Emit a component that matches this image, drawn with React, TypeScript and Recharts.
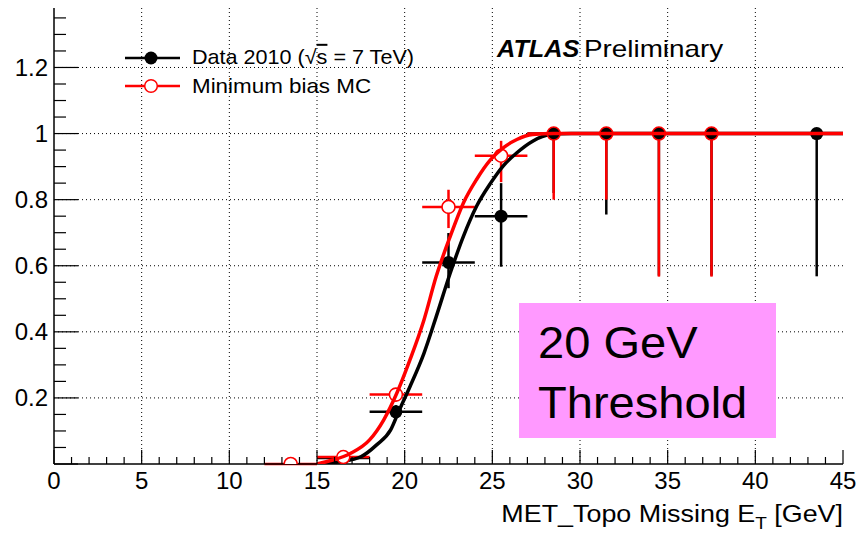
import React from "react";
import {
  ComposedChart,
  Line,
  Scatter,
  ErrorBar,
  XAxis,
  YAxis,
  CartesianGrid,
} from "recharts";

// Trigger efficiency vs missing ET, data and MC with their fitted turn-on curves
const dataX = [16.5, 19.5, 22.5, 25.5, 28.5, 31.5, 34.5, 37.5, 43.5];
const dataY = [0.018, 0.158, 0.61, 0.75, 1, 1, 1, 1, 1];
const dataErrLo = [0.01, 0.02, 0.078, 0.153, 0.18, 0.245, 0.43, 0.43, 0.432];
const dataErrHi = [0.01, 0.02, 0.089, 0.1, 0, 0, 0, 0, 0];
const dataBinHalf = [1.5, 1.5, 1.5, 1.5, 1.5, 1.5, 1.5, 1.5, 1.5];

const mcX = [13.5, 16.5, 19.5, 22.5, 25.5, 28.5, 31.5, 34.5, 37.5];
const mcY = [0, 0.021, 0.21, 0.778, 0.933, 1, 1, 1, 1];
const mcErrLo = [0, 0.01, 0.02, 0.064, 0.08, 0.2, 0.2, 0.433, 0.433];
const mcErrHi = [0, 0.01, 0.02, 0.052, 0.045, 0, 0, 0, 0];
const mcBinHalf = [1.5, 1.5, 1.5, 1.5, 1.5, 1.5, 1.5, 1.5, 1.5];

// fitted curves, sampled
const dataFitX = [15.3, 16.3, 17.5, 18.4, 19.2, 19.7, 20.3, 21.1, 21.8, 22.6, 23.35, 24.1, 24.9, 25.6, 26.4, 27.3, 28.3, 29.5, 45];
const dataFitY = [0, 0.007, 0.022, 0.058, 0.103, 0.164, 0.234, 0.335, 0.446, 0.578, 0.689, 0.78, 0.85, 0.901, 0.942, 0.977, 0.997, 1, 1];
const mcFitX = [15, 15.9, 16.9, 18.0, 18.8, 19.55, 20.3, 21.1, 21.8, 22.6, 23.35, 24.1, 24.9, 25.6, 26.4, 27.3, 28.5, 45];
const mcFitY = [0, 0.012, 0.032, 0.073, 0.133, 0.214, 0.315, 0.436, 0.568, 0.689, 0.79, 0.861, 0.921, 0.956, 0.982, 0.997, 1, 1];

const xTicks = [
  0, 1, 2, 3, 4, 5, 6, 7, 8, 9, 10, 11, 12, 13, 14, 15, 16, 17, 18, 19, 20, 21, 22,
  23, 24, 25, 26, 27, 28, 29, 30, 31, 32, 33, 34, 35, 36, 37, 38, 39, 40, 41, 42, 43, 44, 45,
];
const yTicks = [
  0, 0.05, 0.1, 0.15, 0.2, 0.25, 0.3, 0.35, 0.4, 0.45, 0.5, 0.55, 0.6, 0.65,
  0.7, 0.75, 0.8, 0.85, 0.9, 0.95, 1, 1.05, 1.1, 1.15, 1.2, 1.25, 1.3, 1.35,
];
const xGrid = [5, 10, 15, 20, 25, 30, 35, 40];
const yGrid = [0.2, 0.4, 0.6, 0.8, 1, 1.2];

const dataPoints = dataX.map((x, i) => ({
  x,
  y: dataY[i],
  ex: [dataBinHalf[i], dataBinHalf[i]],
  ey: [dataErrLo[i], dataErrHi[i]],
}));
const mcPoints = mcX.map((x, i) => ({
  x,
  y: mcY[i],
  ex: [mcBinHalf[i], mcBinHalf[i]],
  ey: [mcErrLo[i], mcErrHi[i]],
}));
const dataFit = dataFitX.map((x, i) => ({ x, y: dataFitY[i] }));
const mcFit = mcFitX.map((x, i) => ({ x, y: mcFitY[i] }));

const FONT = '"Liberation Sans", Arial, Helvetica, sans-serif';
const W = 856;
const H = 547;

const isMajorX = (v: number) => v % 5 === 0;
const isMajorY = (v: number) => Math.abs(v * 5 - Math.round(v * 5)) < 1e-6;

const BottomTick = (props: any) => {
  const { x, y, payload } = props;
  const major = isMajorX(payload.value);
  return (
    <g>
      <line x1={x} x2={x} y1={y} y2={y - (major ? 14 : 7)} stroke="#000" strokeWidth={1.2} />
      {major && (
        <text x={x} y={y + 25} textAnchor="middle" fontSize={24} fontFamily={FONT} fill="#000">
          {payload.value}
        </text>
      )}
    </g>
  );
};

const TopTick = (props: any) => {
  const { x, y, payload } = props;
  const major = isMajorX(payload.value);
  return <line x1={x} x2={x} y1={y} y2={y + (major ? 14 : 7)} stroke="#000" strokeWidth={1.2} />;
};

const LeftTick = (props: any) => {
  const { x, y, payload } = props;
  const v = payload.value as number;
  const major = isMajorY(v);
  return (
    <g>
      <line x1={x} x2={x + (major ? 24 : 12)} y1={y} y2={y} stroke="#000" strokeWidth={1.2} />
      {major && v > 0 && (
        <text x={x - 6} y={y + 8.5} textAnchor="end" fontSize={24} fontFamily={FONT} fill="#000">
          {Number(v.toFixed(1)).toString()}
        </text>
      )}
    </g>
  );
};

const RightTick = (props: any) => {
  const { x, y, payload } = props;
  const major = isMajorY(payload.value);
  return <line x1={x} x2={x - (major ? 24 : 12)} y1={y} y2={y} stroke="#000" strokeWidth={1.2} />;
};

const DataDot = (props: any) => {
  const { cx, cy } = props;
  return <circle cx={cx} cy={cy} r={6.5} fill="#000" />;
};

const McDot = (props: any) => {
  const { cx, cy, payload } = props;
  return (
    <circle
      cx={cx}
      cy={cy}
      r={6.5}
      fill={payload.y < 1 ? "#fff" : "none"}
      stroke="#ff0000"
      strokeWidth={1.6}
    />
  );
};

// text drawn slightly wider than the font, like the ROOT output
const Wide = ({ x, y, sx, size, anchor, children, weight, italic }: any) => (
  <text
    transform={`translate(${x},${y}) scale(${sx},1)`}
    fontSize={size}
    fontFamily={FONT}
    textAnchor={anchor || "start"}
    fontWeight={weight || "normal"}
    fontStyle={italic ? "italic" : "normal"}
    fill="#000"
  >
    {children}
  </text>
);

const Annotations = () => (
  <svg
    width={W}
    height={H}
    style={{ position: "absolute", left: 0, top: 0, pointerEvents: "none" }}
  >
    {/* legend */}
    <line x1={125} x2={180} y1={58} y2={58} stroke="#000" strokeWidth={2.5} />
    <circle cx={151} cy={58} r={6.5} fill="#000" />
    <Wide x={192} y={64} sx={1.08} size={20}>
      Data 2010 (√<tspan style={{ textDecoration: "overline" }}>s</tspan> = 7 TeV)
    </Wide>
    <line x1={125} x2={180} y1={86} y2={86} stroke="#ff0000" strokeWidth={2.5} />
    <circle cx={151} cy={86} r={6.3} fill="#fff" stroke="#ff0000" strokeWidth={1.5} />
    <Wide x={192} y={93} sx={1.12} size={20}>
      Minimum bias MC
    </Wide>

    <Wide x={497} y={57} sx={1.1} size={23} weight="bold" italic>
      ATLAS
    </Wide>
    <Wide x={584} y={57} sx={1.16} size={24}>
      Preliminary
    </Wide>

    {/* threshold box */}
    <rect x={519} y={303} width={257} height={135} fill="#ff99ff" />
    <Wide x={538} y={358} sx={1.07} size={44}>
      20 GeV
    </Wide>
    <Wide x={538} y={418} sx={1.07} size={44}>
      Threshold
    </Wide>

    {/* x-axis title */}
    <text
      transform={`translate(843,522) scale(1.12,1)`}
      fontSize={24}
      fontFamily={FONT}
      textAnchor="end"
      fill="#000"
    >
      MET_Topo Missing E
      <tspan fontSize={17} dy={7}>
        T
      </tspan>
      <tspan dy={-7}> [GeV]</tspan>
    </text>
  </svg>
);

export default function App() {
  return (
    <div style={{ position: "absolute", left: 0, top: 0, width: W, height: H, background: "#fff" }}>
      <ComposedChart width={W} height={H} margin={{ top: 8, right: 13, bottom: 43, left: 0 }}>
        <CartesianGrid
          stroke="#000"
          strokeDasharray="1 3"
          strokeWidth={1}
          verticalValues={xGrid}
          horizontalValues={yGrid}
        />
        <XAxis
          dataKey="x"
          type="number"
          domain={[0, 45]}
          ticks={xTicks}
          interval={0}
          tickSize={0}
          tickMargin={0}
          tickLine={false}
          tick={<BottomTick />}
          axisLine={{ stroke: "#000", strokeWidth: 1.5 }}
          height={40}
          allowDataOverflow
        />
        <XAxis
          xAxisId="top"
          orientation="top"
          dataKey="x"
          type="number"
          domain={[0, 45]}
          ticks={xTicks}
          interval={0}
          tickSize={0}
          tickMargin={0}
          tickLine={false}
          tick={<TopTick />}
          axisLine={{ stroke: "#000", strokeWidth: 1.5 }}
          height={0}
          allowDataOverflow
        />
        <YAxis
          type="number"
          domain={[0, 1.38]}
          ticks={yTicks}
          interval={0}
          tickSize={0}
          tickMargin={0}
          tickLine={false}
          tick={<LeftTick />}
          axisLine={{ stroke: "#000", strokeWidth: 1.5 }}
          width={54}
          allowDataOverflow
        />
        <YAxis
          yAxisId="right"
          orientation="right"
          type="number"
          domain={[0, 1.38]}
          ticks={yTicks}
          interval={0}
          tickSize={0}
          tickMargin={0}
          tickLine={false}
          tick={<RightTick />}
          axisLine={{ stroke: "#000", strokeWidth: 1.5 }}
          width={0}
          allowDataOverflow
        />

        <Line
          data={dataFit}
          dataKey="y"
          type="monotone"
          stroke="#000"
          strokeWidth={3.5}
          dot={false}
          activeDot={false}
          isAnimationActive={false}
          zIndex={610}
        />
        <Scatter data={dataPoints} dataKey="y" shape={<DataDot />} isAnimationActive={false} zIndex={620}>
          <ErrorBar dataKey="ex" direction="x" width={0} stroke="#000" strokeWidth={2.5} isAnimationActive={false} />
          <ErrorBar dataKey="ey" direction="y" width={0} stroke="#000" strokeWidth={2.5} isAnimationActive={false} />
        </Scatter>
        <Scatter data={mcPoints} dataKey="y" shape={<McDot />} isAnimationActive={false} zIndex={630}>
          <ErrorBar dataKey="ex" direction="x" width={0} stroke="#ff0000" strokeWidth={2.5} isAnimationActive={false} />
          <ErrorBar dataKey="ey" direction="y" width={0} stroke="#ff0000" strokeWidth={2.5} isAnimationActive={false} />
        </Scatter>
        <Line
          data={mcFit}
          dataKey="y"
          type="monotone"
          stroke="#ff0000"
          strokeWidth={3.5}
          dot={false}
          activeDot={false}
          isAnimationActive={false}
          zIndex={640}
        />
      </ComposedChart>
      <Annotations />
    </div>
  );
}
